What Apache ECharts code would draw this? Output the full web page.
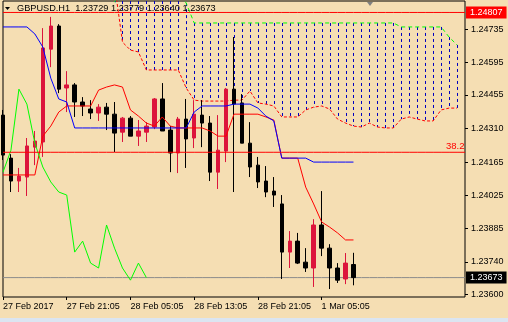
<!DOCTYPE html>
<html><head><meta charset="utf-8">
<script src="https://cdn.jsdelivr.net/npm/echarts@6/dist/echarts.min.js"></script>
<style>html,body{margin:0;padding:0;background:#f5deb3}#c{width:508px;height:322px}</style>
</head><body><div id="c"></div>
<script>
const categories = [
'27 Feb 13:00','27 Feb 14:00','27 Feb 15:00','27 Feb 16:00','27 Feb 17:00','27 Feb 18:00','27 Feb 19:00','27 Feb 20:00','27 Feb 21:00','27 Feb 22:00','27 Feb 23:00',
'28 Feb 00:00','28 Feb 01:00','28 Feb 02:00','28 Feb 03:00','28 Feb 04:00','28 Feb 05:00','28 Feb 06:00','28 Feb 07:00','28 Feb 08:00','28 Feb 09:00','28 Feb 10:00','28 Feb 11:00',
'28 Feb 12:00','28 Feb 13:00','28 Feb 14:00','28 Feb 15:00','28 Feb 16:00','28 Feb 17:00','28 Feb 18:00','28 Feb 19:00','28 Feb 20:00','28 Feb 21:00','28 Feb 22:00','28 Feb 23:00',
'1 Mar 00:00','1 Mar 01:00','1 Mar 02:00','1 Mar 03:00','1 Mar 04:00','1 Mar 05:00','1 Mar 06:00','1 Mar 07:00','1 Mar 08:00','1 Mar 09:00','1 Mar 10:00','1 Mar 11:00',
'1 Mar 12:00','1 Mar 13:00','1 Mar 14:00','1 Mar 15:00','1 Mar 16:00','1 Mar 17:00','1 Mar 18:00','1 Mar 19:00','1 Mar 20:00','1 Mar 21:00','1 Mar 22:00','1 Mar 23:00'];

const xTickCategories = ['27 Feb 13:00','27 Feb 21:00','28 Feb 05:00','28 Feb 13:00','28 Feb 21:00','1 Mar 05:00'];
const xTickLabels = ['27 Feb 2017','27 Feb 21:05','28 Feb 05:05','28 Feb 13:05','28 Feb 21:05','1 Mar 05:05'];
const yTickValues = [1.24735,1.24595,1.24455,1.24310,1.24165,1.24025,1.23885,1.23740,1.23600];

const open = [1.24368,1.24184,1.24086,1.24103,1.24231,1.24253,1.24650,1.24749,1.24484,1.24497,1.24424,1.24394,1.24377,1.24402,1.24372,1.24295,1.24355,1.24278,1.24295,1.24317,1.24437,1.24304,1.24206,1.24351,1.24270,1.24368,1.24334,1.24124,1.24214,1.24479,1.24420,1.24248,1.24154,1.24086,1.24043,1.23988,1.23782,1.23829,1.23739,1.23714,1.23898,1.23799,1.23714,1.23667,1.23729];
const close = [1.24197,1.24086,1.24107,1.24236,1.24257,1.24655,1.24749,1.24479,1.24497,1.24424,1.24407,1.24377,1.24402,1.24372,1.24291,1.24355,1.24278,1.24300,1.24321,1.24437,1.24300,1.24206,1.24351,1.24266,1.24372,1.24334,1.24124,1.24218,1.24479,1.24415,1.24248,1.24146,1.24082,1.24039,1.24026,1.23782,1.23829,1.23735,1.23714,1.23898,1.23799,1.23714,1.23662,1.23735,1.23673];
const low = [1.24176,1.24039,1.24039,1.24022,1.24154,1.24189,1.24573,1.24462,1.24381,1.24360,1.24364,1.24351,1.24343,1.24304,1.24210,1.24253,1.24278,1.24236,1.24253,1.24308,1.24300,1.24124,1.24120,1.24142,1.24227,1.24231,1.24086,1.24052,1.24167,1.24039,1.24248,1.24103,1.24056,1.24017,1.23975,1.23667,1.23714,1.23731,1.23697,1.23633,1.23765,1.23624,1.23650,1.23645,1.23640];
const high = [1.24390,1.24201,1.24142,1.24270,1.24300,1.24740,1.24788,1.24757,1.24556,1.24505,1.24445,1.24432,1.24415,1.24420,1.24424,1.24360,1.24364,1.24347,1.24338,1.24441,1.24505,1.24321,1.24360,1.24437,1.24432,1.24432,1.24364,1.24368,1.24484,1.24702,1.24458,1.24338,1.24189,1.24150,1.24103,1.24026,1.23872,1.23864,1.23799,1.23923,1.24043,1.23816,1.23735,1.23778,1.23779];

const tenkan = [1.24112,1.24112,1.24112,1.24112,1.24112,1.24278,1.24321,1.24381,1.24407,1.24407,1.24407,1.24407,1.24475,1.24488,1.24497,1.24488,1.24390,1.24364,1.24334,1.24321,1.24360,1.24321,1.24313,1.24313,1.24313,1.24313,1.24300,1.24278,1.24278,1.24372,1.24372,1.24372,1.24372,1.24360,1.24347,1.24184,1.24184,1.24184,1.24060,1.23988,1.23911,1.23889,1.23864,1.23834,1.23834];
const kijun = [1.24745,1.24745,1.24745,1.24745,1.24715,1.24659,1.24526,1.24437,1.24424,1.24313,1.24313,1.24313,1.24313,1.24313,1.24313,1.24313,1.24313,1.24313,1.24313,1.24313,1.24313,1.24313,1.24313,1.24313,1.24381,1.24407,1.24407,1.24407,1.24407,1.24415,1.24415,1.24415,1.24398,1.24364,1.24343,1.24184,1.24184,1.24184,1.24184,1.24167,1.24167,1.24167,1.24167,1.24167,1.24167];
const chikou = [1.24124,1.24218,1.24479,1.24415,1.24248,1.24146,1.24082,1.24039,1.24026,1.23782,1.23829,1.23735,1.23714,1.23898,1.23799,1.23714,1.23662,1.23735,1.23673];

const cloudFrom = '28 Feb 03:00';
const spanA = [1.24928,1.24680,1.24646,1.24638,1.24561,1.24561,1.24561,1.24561,1.24561,1.24484,1.24432,1.24428,1.24428,1.24428,1.24428,1.24432,1.24432,1.24471,1.24420,1.24415,1.24407,1.24360,1.24360,1.24360,1.24390,1.24402,1.24407,1.24394,1.24351,1.24334,1.24321,1.24317,1.24334,1.24317,1.24313,1.24313,1.24351,1.24360,1.24351,1.24343,1.24343,1.24390,1.24398,1.24398];
const spanB = [1.24851,1.24903,1.24903,1.24903,1.24903,1.24903,1.24903,1.24903,1.24903,1.24847,1.24762,1.24762,1.24762,1.24762,1.24762,1.24762,1.24762,1.24762,1.24762,1.24762,1.24762,1.24762,1.24762,1.24762,1.24762,1.24762,1.24762,1.24762,1.24762,1.24762,1.24762,1.24762,1.24762,1.24762,1.24762,1.24762,1.24745,1.24745,1.24745,1.24745,1.24745,1.24745,1.24702,1.24668];

const levelHigh = 1.24807;
const level382 = 1.24209;
const levelBid = 1.23673;
const titleText = 'GBPUSD.H1  1.23729 1.23779 1.23640 1.23673';

const FONT = 'Liberation Sans, Arial, sans-serif';
const c0 = categories.indexOf(cloudFrom);
const pad = (arr, start) => categories.map((_, i) => (i >= start && i - start < arr.length) ? arr[i - start] : null);
const flat = (v) => categories.map(() => v);
const candleData = open.map((o, i) => [o, close[i], low[i], high[i]]);
const cloudData = spanA.map((a, i) => [c0 + i, a, spanB[i]]);
const tickIdx = new Set(xTickCategories.map(c => categories.indexOf(c)));
const labelOf = {}; xTickCategories.forEach((c, i) => labelOf[c] = xTickLabels[i]);

const levelSeries = (name, v, color, z, endLabel) => ({
  type: 'line', name, data: flat(v), symbol: 'none', z, silent: true,
  lineStyle: {color, width: 1}, endLabel: Object.assign({show: true, fontSize: 9, fontFamily: FONT}, endLabel)
});

const chart = echarts.init(document.getElementById('c'), null, {renderer: 'canvas'});
chart.setOption({
  animation: false,
  backgroundColor: '#f5deb3',
  grid: {left: 1, top: 1, right: 43, bottom: 25, show: true, borderColor: '#000', borderWidth: 1, backgroundColor: 'transparent'},
  xAxis: {
    type: 'category', data: categories, boundaryGap: false,
    axisLine: {show: false},
    axisTick: {show: true, length: 3, interval: (i) => tickIdx.has(i), lineStyle: {color: '#000'}},
    axisLabel: {interval: (i) => tickIdx.has(i), formatter: (v) => labelOf[v] || '', align: 'left', margin: 5, fontSize: 9, color: '#000', fontFamily: FONT},
    splitLine: {show: false}
  },
  yAxis: {
    type: 'value', position: 'right', min: 1.2359, max: 1.24856, scale: true,
    splitLine: {show: false}, axisLine: {show: false},
    axisTick: {show: true, length: 3, customValues: yTickValues, lineStyle: {color: '#000'}},
    axisLabel: {customValues: yTickValues, formatter: (v) => v.toFixed(5), margin: 6, fontSize: 9, color: '#000', fontFamily: FONT}
  },
  graphic: [
    {type: 'polygon', shape: {points: [[5, 7], [10, 7], [7.5, 10]]}, style: {fill: '#000'}, z: 100},
    {type: 'text', x: 17, y: 8, style: {text: titleText, fill: '#000', font: '9.2px ' + FONT, verticalAlign: 'middle'}, z: 100},
    {type: 'polygon', shape: {points: [[367, 2], [373, 2], [370, 6]]}, style: {fill: '#808080'}, z: 100},
    {type: 'rect', shape: {x: 0, y: 318, width: 508, height: 4}, style: {fill: '#dbe5f1'}, z: 100}
  ],
  series: [
    {
      type: 'custom', name: 'cloud', data: cloudData, encode: {x: 0, y: [1, 2]}, z: 1, silent: true,
      renderItem: (params, api) => {
        const k = api.value(0);
        const p1 = api.coord([k, api.value(1)]);
        const p2 = api.coord([k, api.value(2)]);
        const cs = params.coordSys;
        const y1 = Math.max(cs.y, Math.min(p1[1], p2[1]));
        const y2 = Math.min(cs.y + cs.height, Math.max(p1[1], p2[1]));
        if (y2 <= y1) return null;
        const x = Math.round(p1[0]) + 0.5;
        return {type: 'line', shape: {x1: x, y1: y1, x2: x, y2: y2}, style: {stroke: '#0000c0', lineWidth: 1, lineDash: [3, 3]}};
      }
    },
    {type: 'line', name: 'spanA', data: pad(spanA, c0), symbol: 'none', z: 2, silent: true,
     lineStyle: {color: '#ff0000', width: 1, type: [3, 2]}},
    {type: 'line', name: 'spanB', data: pad(spanB, c0), symbol: 'none', z: 2, silent: true,
     lineStyle: {color: '#00ff00', width: 1, type: [4, 3]}},
    levelSeries('bid', levelBid, '#8c8c8c', 2,
      {formatter: levelBid.toFixed(5), color: '#fff', backgroundColor: '#000', padding: [2, 4, 1, 4], distance: 1}),
    {type: 'candlestick', name: 'GBPUSD', data: candleData, barWidth: 4, z: 3,
     itemStyle: {color: '#dc143c', color0: '#000000', borderColor: '#dc143c', borderColor0: '#000000', borderWidth: 1}},
    {type: 'line', name: 'tenkan', data: tenkan, symbol: 'none', z: 4, silent: true, lineStyle: {color: '#ff0000', width: 1}},
    {type: 'line', name: 'kijun', data: kijun, symbol: 'none', z: 5, silent: true, lineStyle: {color: '#0000ff', width: 1}},
    {type: 'line', name: 'chikou', data: chikou, symbol: 'none', z: 5, silent: true, lineStyle: {color: '#00ff00', width: 1}},
    levelSeries('high', levelHigh, '#ff0000', 6,
      {formatter: levelHigh.toFixed(5), color: '#fff', backgroundColor: '#ff0000', padding: [2, 4, 1, 4], distance: 1}),
    levelSeries('fib382', level382, '#ff0000', 6,
      {formatter: '38.2', color: '#ff0000', fontSize: 9.5, distance: 0, offset: [-19, -6]})
  ]
});
</script></body></html>
